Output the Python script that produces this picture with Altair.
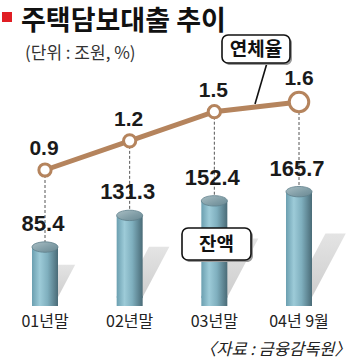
import altair as alt
import pandas as pd

# ---- data ----
categories = ["01년말", "02년말", "03년말", "04년 9월"]
balance = [85.4, 131.3, 152.4, 165.7]          # 잔액 (조원)
delinquency = [0.9, 1.2, 1.5, 1.6]              # 연체율 (%)
balance_labels = ["85.4", "131.3", "152.4", "165.7"]
rate_labels = ["0.9", "1.2", "1.5", "1.6"]

title_text = "주택담보대출 추이"
unit_text = "(단위 : 조원, %)"
source_text = "〈자료 : 금융감독원〉"
rate_callout = "연체율"
balance_callout = "잔액"

df = pd.DataFrame({
    "idx": list(range(len(categories))),
    "cat": categories,
    "bal": balance,
    "rate": delinquency,
    "bal_t": balance_labels,
    "rate_t": rate_labels,
})

# shadow table built from the balance values (bottom and top of each shadow)
shadow_rows = []
for i, v in enumerate(balance):
    shadow_rows.append({"idx": i, "level": 0.0})
    shadow_rows.append({"idx": i, "level": v})
shadow_df = pd.DataFrame(shadow_rows)

BROWN = "#b5845d"
NARROW = "'Liberation Sans', Arial, sans-serif"
KR = "'Noto Sans CJK KR', 'Noto Sans', sans-serif"

xs = alt.Scale(domain=[0, 3], range=[40, 304], nice=False, zero=False)
X = alt.X("idx:Q", scale=xs, axis=None)
Ybal = alt.Y("bal:Q", scale=alt.Scale(domain=[0, 100], range=[306, 237], nice=False, zero=False), axis=None)
Yrate = alt.Y("rate:Q", scale=alt.Scale(domain=[0.9, 1.6], range=[170, 102], nice=False, zero=False), axis=None)

body_grad = alt.Gradient(
    gradient="linear", x1=0, x2=1, y1=0, y2=0,
    stops=[
        alt.GradientStop(color="#6b9fb0", offset=0),
        alt.GradientStop(color="#9dcbd8", offset=0.3),
        alt.GradientStop(color="#7fafbe", offset=0.6),
        alt.GradientStop(color="#4a6b77", offset=1),
    ],
)
top_grad = alt.Gradient(
    gradient="linear", x1=0, x2=1, y1=0, y2=1,
    stops=[
        alt.GradientStop(color="#a9bec4", offset=0),
        alt.GradientStop(color="#7f9ca5", offset=0.6),
        alt.GradientStop(color="#6a8892", offset=1),
    ],
)
shadow_grad = alt.Gradient(
    gradient="linear", x1=0, x2=0, y1=1, y2=0,
    stops=[
        alt.GradientStop(color="#cdcdcd", offset=0),
        alt.GradientStop(color="#e4e4e4", offset=1),
    ],
)

ELLIPSE = "M-1,0A1,0.4,0,1,0,1,0A1,0.4,0,1,0,-1,0Z"

base = alt.Chart(df)

# shadows behind the cylinders
shadows = alt.Chart(shadow_df).transform_calculate(
    sx2="datum.idx + 0.148 + 0.00244 * datum.level",
    sx1="datum.idx - 0.092 + 0.00244 * datum.level",
).mark_area(orient="horizontal", fill=shadow_grad, opacity=1).encode(
    y=alt.Y("level:Q", scale=alt.Scale(domain=[0, 100], range=[298, 259], nice=False, zero=False), axis=None),
    x=alt.X("sx1:Q", scale=xs, axis=None),
    x2="sx2:Q",
    detail="idx:N",
)

drops = base.mark_rule(strokeDash=[3, 2], color="#555555", strokeWidth=1).encode(
    x=X, y=Yrate, y2=alt.value(290)
)

bottoms = base.mark_point(shape=ELLIPSE, size=676, filled=True, fill=body_grad,
                          strokeWidth=0, opacity=1).encode(x=X, y=alt.value(297))

bodies = base.mark_bar(width=26, fill=body_grad).encode(x=X, y=Ybal, y2=alt.value(297))

tops = base.mark_point(shape=ELLIPSE, size=676, filled=True, fill=top_grad,
                       stroke="#5f808b", strokeWidth=0.8, opacity=1).encode(x=X, y=Ybal)

pointer = alt.Chart(pd.DataFrame({"a": [0]})).mark_rule(color="#111111", strokeWidth=1.6).encode(
    x=alt.value(267), x2=alt.value(255), y=alt.value(63), y2=alt.value(104)
)

line = base.mark_line(color=BROWN, strokeWidth=5).encode(x=X, y=Yrate)

circles = base.mark_point(shape="circle", filled=True, fill="white", stroke=BROWN,
                          strokeWidth=3, opacity=1).encode(
    x=X, y=Yrate,
    size=alt.condition("datum.idx == 3", alt.value(380), alt.value(150)),
)

rate_text = base.transform_filter("datum.idx < 3").mark_text(
    font=NARROW, fontWeight="bold", fontSize=21, dy=-15, dx=-1, baseline="alphabetic", color="#1a1a1a"
).encode(x=X, y=Yrate, text="rate_t:N")
rate_text_last = base.transform_filter("datum.idx == 3").mark_text(
    font=NARROW, fontWeight="bold", fontSize=21, dy=-17, baseline="alphabetic", color="#1a1a1a"
).encode(x=X, y=Yrate, text="rate_t:N")

bal_text = base.mark_text(
    font=NARROW, fontWeight="bold", fontSize=22, dy=-16, dx=-2, baseline="alphabetic", color="#1a1a1a"
).encode(x=X, y=Ybal, text="bal_t:N")

x_labels = base.mark_text(font=KR, fontSize=16, baseline="alphabetic", color="#222222").encode(
    x=X, y=alt.value(327), text="cat:N"
)

one = pd.DataFrame({"a": [0]})

def callout(x1, x2, y1, y2, label):
    shade = alt.Chart(one).mark_rect(cornerRadius=6, fill="#9a9a9a").encode(
        x=alt.value(x1 + 2), x2=alt.value(x2 + 2), y=alt.value(y1 + 2), y2=alt.value(y2 + 2))
    box = alt.Chart(one).mark_rect(cornerRadius=6, fill="white", stroke="#111111", strokeWidth=1.6).encode(
        x=alt.value(x1), x2=alt.value(x2), y=alt.value(y1), y2=alt.value(y2))
    txt = alt.Chart(one).mark_text(font=KR, fontWeight="bold", fontSize=19, baseline="middle",
                                   align="center", color="#111111").encode(
        x=alt.value((x1 + x2) / 2), y=alt.value((y1 + y2) / 2 + 1), text=alt.value(label))
    return [shade, box, txt]

rate_box = callout(222, 290, 35, 63, rate_callout)
bal_box = callout(182, 251, 228, 260, balance_callout)

red_square = alt.Chart(one).mark_rect(fill="#e01e24").encode(
    x=alt.value(2), x2=alt.value(12), y=alt.value(12), y2=alt.value(22))
title = alt.Chart(one).mark_text(font=KR, fontWeight="bold", fontSize=27, align="left",
                                 baseline="alphabetic", color="#111111").encode(
    x=alt.value(21), y=alt.value(30), text=alt.value(title_text))
unit = alt.Chart(one).mark_text(font=KR, fontSize=17, align="left", baseline="alphabetic",
                                color="#333333").encode(
    x=alt.value(25), y=alt.value(59), text=alt.value(unit_text))
source = alt.Chart(one).mark_text(font=KR, fontSize=16.5, fontStyle="italic", align="right",
                                  baseline="alphabetic", color="#222222").encode(
    x=alt.value(351), y=alt.value(355), text=alt.value(source_text))

chart = alt.layer(
    shadows, drops, bottoms, bodies, tops, pointer, line, circles,
    rate_text, rate_text_last, bal_text, x_labels,
    *rate_box, *bal_box, red_square, title, unit, source,
).resolve_scale(y="independent").properties(
    width=354, height=360, padding=0, autosize="none", background="white"
).configure_view(strokeWidth=0)

chart.save("out.html", embed_options={"renderer": "svg", "actions": False})
